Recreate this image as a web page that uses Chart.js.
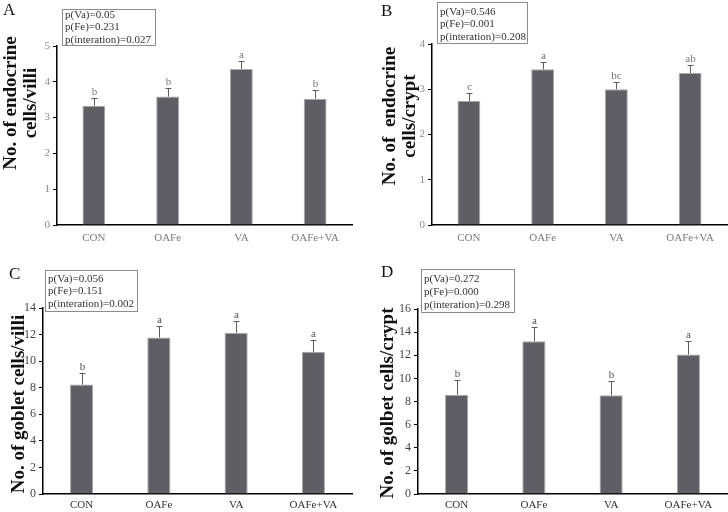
<!DOCTYPE html>
<html>
<head>
<meta charset="utf-8">
<script src="https://cdn.jsdelivr.net/npm/chart.js@4.4.0/dist/chart.umd.min.js"></script>
<style>
    html, body { margin: 0; padding: 0; background: #fff; }
    #figure { position: relative; width: 728px; height: 512px; overflow: hidden; }
    .panel { position: absolute; width: 364px; height: 256px; }
</style>
</head>
<body>
<div id="figure">
    <div class="panel" style="left:0;top:0"><canvas id="chart-a" width="364" height="256"></canvas></div>
    <div class="panel" style="left:364px;top:0"><canvas id="chart-b" width="364" height="256"></canvas></div>
    <div class="panel" style="left:0;top:256px"><canvas id="chart-c" width="364" height="256"></canvas></div>
    <div class="panel" style="left:364px;top:256px"><canvas id="chart-d" width="364" height="256"></canvas></div>
</div>
<script>
/* ── Figure data ── */
var groups = ['CON', 'OAFe', 'VA', 'OAFe+VA'];

// A: endocrine cells per villus
var villiEndocrineMean = [3.33, 3.59, 4.36, 3.53];
var villiEndocrineSem  = [0.23, 0.23, 0.23, 0.23];
var villiEndocrineSig  = ['b', 'b', 'a', 'b'];
var villiEndocrineP    = ['p(Va)=0.05', 'p(Fe)=0.231', 'p(interation)=0.027'];
var villiEndocrineTicks = [0, 1, 2, 3, 4, 5];

// B: endocrine cells per crypt
var cryptEndocrineMean = [2.74, 3.44, 3.00, 3.36];
var cryptEndocrineSem  = [0.17, 0.17, 0.17, 0.17];
var cryptEndocrineSig  = ['c', 'a', 'bc', 'ab'];
var cryptEndocrineP    = ['p(Va)=0.546', 'p(Fe)=0.001', 'p(interation)=0.208'];
var cryptEndocrineTicks = [0, 1, 2, 3, 4];

// C: goblet cells per villus
var villiGobletMean = [8.24, 11.78, 12.14, 10.70];
var villiGobletSem  = [0.88, 0.86, 0.90, 0.90];
var villiGobletSig  = ['b', 'a', 'a', 'a'];
var villiGobletP    = ['p(Va)=0.056', 'p(Fe)=0.151', 'p(interation)=0.002'];
var villiGobletTicks = [0, 2, 4, 6, 8, 10, 12, 14];

// D: goblet cells per crypt
var cryptGobletMean = [8.58, 13.21, 8.55, 12.06];
var cryptGobletSem  = [1.26, 1.24, 1.23, 1.18];
var cryptGobletSig  = ['b', 'a', 'b', 'a'];
var cryptGobletP    = ['p(Va)=0.272', 'p(Fe)=0.000', 'p(interation)=0.298'];
var cryptGobletTicks = [0, 2, 4, 6, 8, 10, 12, 14, 16];

var SERIF = "'Liberation Serif', 'Times New Roman', serif";

/* ================================================================
   PLUGIN: one-sided error bars + significance letters
================================================================ */
var errorBarPlugin = {
    id: 'errorBars',
    afterDatasetsDraw: function (chart) {
        var opts = chart.options.plugins.errorBars;
        var meta = chart.getDatasetMeta(0);
        var yScale = chart.scales.y;
        var ctx = chart.ctx;
        ctx.save();
        ctx.strokeStyle = '#5c5c5c';
        ctx.lineWidth = 1;
        ctx.fillStyle = opts.letterColor;
        ctx.font = '11px ' + SERIF;
        ctx.textAlign = 'center';
        ctx.textBaseline = 'bottom';
        meta.data.forEach(function (bar, i) {
            var x = Math.round(bar.x) + 0.5;
            var yTop = Math.round(yScale.getPixelForValue(opts.mean[i] + opts.sem[i])) + 0.5;
            ctx.beginPath();
            ctx.moveTo(x, bar.y);
            ctx.lineTo(x, yTop);
            ctx.moveTo(x - 3, yTop);
            ctx.lineTo(x + 3, yTop);
            ctx.stroke();
            ctx.fillText(opts.letters[i], x, yTop - 1);
        });
        ctx.restore();
    }
};

/* ================================================================
   PLUGIN: panel letter, p-value box and rotated y title
================================================================ */
var panelTextPlugin = {
    id: 'panelText',
    afterDraw: function (chart) {
        var o = chart.options.plugins.panelText;
        var ctx = chart.ctx;
        ctx.save();

        // panel letter
        ctx.fillStyle = '#111';
        ctx.font = '17px ' + SERIF;
        ctx.textAlign = 'left';
        ctx.textBaseline = 'alphabetic';
        ctx.fillText(o.letter, o.letterX, o.letterY);

        // p-value box
        ctx.fillStyle = '#fff';
        ctx.fillRect(o.box[0], o.box[1], o.box[2], o.box[3]);
        ctx.strokeStyle = '#8c8c8c';
        ctx.lineWidth = 1;
        ctx.strokeRect(o.box[0] + 0.5, o.box[1] + 0.5, o.box[2], o.box[3]);
        ctx.fillStyle = '#333';
        ctx.font = '11px ' + SERIF;
        ctx.textBaseline = 'middle';
        o.pLines.forEach(function (txt, i) {
            ctx.fillText(txt, o.box[0] + 3, o.lineY[i]);
        });

        // y-axis title, one or two lines
        ctx.fillStyle = '#111';
        ctx.font = 'bold 19px ' + SERIF;
        ctx.textAlign = 'center';
        ctx.textBaseline = 'alphabetic';
        o.title.forEach(function (txt, i) {
            ctx.save();
            ctx.translate(o.titleX[i], o.titleY);
            ctx.rotate(-Math.PI / 2);
            ctx.fillText(txt, 0, 0);
            ctx.restore();
        });

        ctx.restore();
    }
};

/* ================================================================
   CHART BUILDER
================================================================ */
function buildPanel(canvasId, mean, sem, letters, pLines, ticks, look) {
    var ctx = document.getElementById(canvasId).getContext('2d');
    var W = 364, H = 256;
    return new Chart(ctx, {
        type: 'bar',
        data: {
            labels: groups,
            datasets: [{
                data: mean,
                backgroundColor: '#5f5f63',
                borderColor: '#a8a8a8',
                borderWidth: 1,
                barPercentage: look.barPct,
                categoryPercentage: 1
            }]
        },
        options: {
            responsive: false,
            animation: false,
            devicePixelRatio: 1,
            layout: { padding: { left: 0, right: W - look.plot.right, top: look.plot.top, bottom: 0 } },
            plugins: {
                legend: { display: false },
                tooltip: { enabled: false },
                errorBars: { mean: mean, sem: sem, letters: letters, letterColor: look.letterColor },
                panelText: {
                    letter: look.letter, letterX: look.letterX, letterY: look.letterY,
                    box: look.box, pLines: pLines, lineY: look.lineY,
                    title: look.title, titleX: look.titleX, titleY: look.titleY
                }
            },
            scales: {
                x: {
                    afterFit: function (s) { s.height = H - look.plot.bottom; },
                    grid: { display: false, drawTicks: false },
                    border: { display: true, color: '#000', width: 1.5 },
                    ticks: { color: look.catColor, padding: look.catPad, font: { family: SERIF, size: 11 } }
                },
                y: {
                    min: ticks[0],
                    max: ticks[ticks.length - 1],
                    afterFit: function (s) { s.width = look.plot.left; },
                    afterBuildTicks: function (s) {
                        s.ticks = ticks.map(function (v) { return { value: v }; });
                    },
                    grid: { display: true, drawOnChartArea: false, drawTicks: true, tickLength: 4, color: '#000' },
                    border: { display: true, color: '#000', width: 1.5 },
                    ticks: { color: look.tickColor, padding: 3, font: { family: SERIF, size: look.tickSize } }
                }
            }
        },
        plugins: [errorBarPlugin, panelTextPlugin]
    });
}

/* ── Panel A ── */
buildPanel('chart-a', villiEndocrineMean, villiEndocrineSem, villiEndocrineSig, villiEndocrineP, villiEndocrineTicks, {
    plot: { left: 57, right: 352, top: 46, bottom: 225 },
    barPct: 0.31, catPad: 7, catColor: '#7a7a7a', tickColor: '#8a8a8a', tickSize: 11, letterColor: '#777',
    letter: 'A', letterX: 3, letterY: 15,
    box: [62, 9, 93, 36], lineY: [15, 27, 40],
    title: ['No. of endocrine', 'cells/villi'], titleX: [16, 36], titleY: 103
});

/* ── Panel B ── */
buildPanel('chart-b', cryptEndocrineMean, cryptEndocrineSem, cryptEndocrineSig, cryptEndocrineP, cryptEndocrineTicks, {
    plot: { left: 68, right: 363, top: 44, bottom: 225 },
    barPct: 0.31, catPad: 7, catColor: '#7a7a7a', tickColor: '#8a8a8a', tickSize: 11, letterColor: '#777',
    letter: 'B', letterX: 17, letterY: 16,
    box: [73, 2, 90, 41], lineY: [12, 24, 37],
    title: ['No. of  endocrine', 'cells/crypt'], titleX: [31, 51], titleY: 116
});

/* ── Panel C ── */
buildPanel('chart-c', villiGobletMean, villiGobletSem, villiGobletSig, villiGobletP, villiGobletTicks, {
    plot: { left: 43, right: 352, top: 52, bottom: 238 },
    barPct: 0.30, catPad: 5, catColor: '#333', tickColor: '#444', tickSize: 12, letterColor: '#555',
    letter: 'C', letterX: 9, letterY: 23,
    box: [45, 14, 92, 41], lineY: [23, 35, 48],
    title: ['No. of goblet cells/villi'], titleX: [24], titleY: 148
});

/* ── Panel D ── */
buildPanel('chart-d', cryptGobletMean, cryptGobletSem, cryptGobletSig, cryptGobletP, cryptGobletTicks, {
    plot: { left: 54, right: 363, top: 53, bottom: 238 },
    barPct: 0.30, catPad: 5, catColor: '#333', tickColor: '#444', tickSize: 12, letterColor: '#555',
    letter: 'D', letterX: 17, letterY: 21,
    box: [57, 13, 93, 43], lineY: [23, 36, 49],
    title: ['No. of golbet cells/crypt'], titleX: [29], titleY: 147
});
</script>
</body>
</html>
